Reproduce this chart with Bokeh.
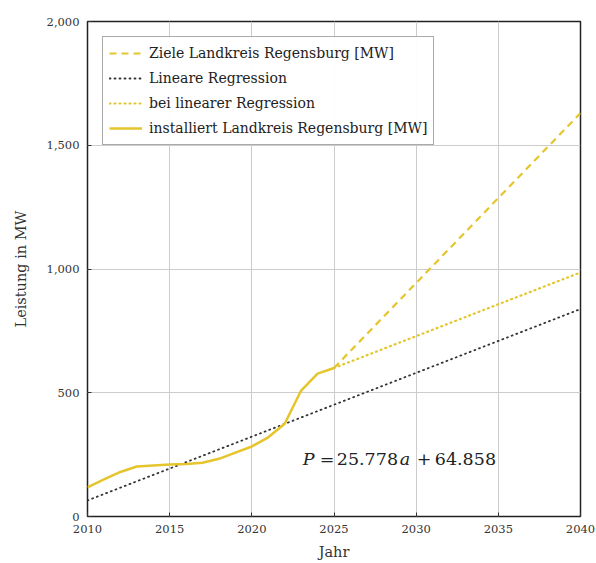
from bokeh.plotting import figure
from bokeh.models import NumeralTickFormatter, FixedTicker, Legend, LegendItem, Label
from bokeh.embed import file_html
from bokeh.resources import INLINE

# installed capacity
years_inst = [2010, 2011, 2012, 2013, 2014, 2015, 2016, 2017, 2018, 2019, 2020, 2021, 2022, 2023, 2024, 2025]
mw_inst = [118, 150, 180, 202, 206, 210, 212, 217, 233, 258, 283, 320, 375, 509, 577, 600]

# targets
years_goal = [2025, 2040]
mw_goal = [600, 1630]

# continuation with linear regression
years_linc = [2025, 2040]
mw_linc = [600, 986]

# linear regression P = 25.778a + 64.858
years_reg = [2010, 2040]
mw_reg = [64.9, 838.2]

x_ticks = [2010, 2015, 2020, 2025, 2030, 2035, 2040]
y_ticks = [0, 500, 1000, 1500, 2000]

YEL = "#e6c52c"
FONT = "DejaVu Serif"

p = figure(width=596, height=563, x_range=(2010, 2040), y_range=(0, 2000),
           output_backend="svg", toolbar_location=None,
           min_border_left=87, min_border_top=21, min_border_right=16, min_border_bottom=47)
p.frame_width = 493
p.frame_height = 495

p.outline_line_color = "#222222"
p.outline_line_width = 1.5
p.background_fill_color = "white"
p.border_fill_color = "white"

p.xgrid.grid_line_color = "#cccccc"
p.ygrid.grid_line_color = "#cccccc"
p.xaxis.ticker = FixedTicker(ticks=x_ticks)
p.yaxis.ticker = FixedTicker(ticks=y_ticks)
p.yaxis.formatter = NumeralTickFormatter(format="0,0")
for ax in (p.xaxis[0], p.yaxis[0]):
    ax.axis_line_color = None
    ax.major_tick_in = 4
    ax.major_tick_out = 0
    ax.major_tick_line_color = "#333333"
    ax.minor_tick_line_color = None
    ax.major_label_text_font = FONT
    ax.major_label_text_font_size = "11.5px"
    ax.major_label_text_color = "#333333"
    ax.axis_label_text_font = FONT
    ax.axis_label_text_font_size = "14.5px"
    ax.axis_label_text_font_style = "normal"
    ax.axis_label_text_color = "#333333"
p.xaxis.axis_label = "Jahr"
p.yaxis.axis_label = "Leistung in MW"
p.xaxis.major_label_standoff = 8
p.yaxis.major_label_standoff = 8
p.xaxis.axis_label_standoff = 8
p.yaxis.axis_label_standoff = 15

r_goal = p.line(years_goal, mw_goal, line_color=YEL, line_width=2.2, line_dash="7 5")
r_reg = p.line(years_reg, mw_reg, line_color="#333333", line_width=1.8, line_dash="1 4", line_cap="round")
r_linc = p.line(years_linc, mw_linc, line_color=YEL, line_width=2.2, line_dash="1 4", line_cap="round")
r_inst = p.line(years_inst, mw_inst, line_color=YEL, line_width=2.5)

eq_parts = [("P", "italic", 0), ("=", "normal", 17), ("25.778", "normal", 34),
            ("a", "italic", 97), ("+", "normal", 114), ("64.858", "normal", 132)]
for txt, style, off in eq_parts:
    p.add_layout(Label(x=2023.1, y=234, x_offset=off, text=txt, text_font=FONT,
                       text_font_size="17.5px", text_font_style=style, text_color="#222222",
                       text_baseline="middle"))

legend = Legend(items=[
    LegendItem(label="Ziele Landkreis Regensburg [MW]", renderers=[r_goal]),
    LegendItem(label="Lineare Regression", renderers=[r_reg]),
    LegendItem(label="bei linearer Regression", renderers=[r_linc]),
    LegendItem(label="installiert Landkreis Regensburg [MW]", renderers=[r_inst]),
], location="top_left")
legend.label_text_font = FONT
legend.label_text_font_size = "14px"
legend.label_text_color = "#222222"
legend.glyph_width = 33
legend.glyph_height = 20
legend.label_height = 20
legend.spacing = 5
legend.padding = 6
legend.margin = 15
legend.border_line_color = "#555555"
legend.border_line_width = 1
legend.label_standoff = 7
p.add_layout(legend)

open("out.html", "w").write(file_html(p, INLINE))
